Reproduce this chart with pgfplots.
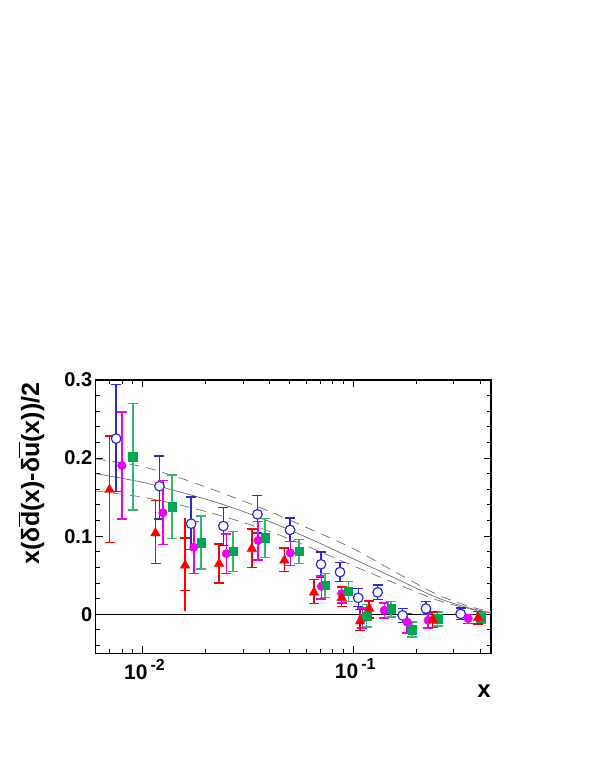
\documentclass[border=0pt]{standalone}
\usepackage{fontspec}
\setmainfont{Liberation Sans}
\usepackage{pgfplots}
\pgfplotsset{compat=1.18}
\definecolor{cblue}{RGB}{40,40,235}
\definecolor{cmag}{RGB}{240,0,240}
\definecolor{cgreen}{RGB}{0,166,81}
\definecolor{cgreenbar}{RGB}{50,185,110}
\definecolor{cred}{RGB}{255,0,0}
\definecolor{cgray}{RGB}{110,110,110}
\newcommand{\xtl}[1]{\fontsize{21}{21}\selectfont\bfseries 10\hspace{3pt}\raisebox{9pt}{\fontsize{16}{16}\selectfont\bfseries #1}}
\pgfplotsset{
  ebar/.style={
    only marks,
    error bars/y dir=both, error bars/y explicit,
    error bars/error bar style={/tikz/line width=1.5pt, /tikz/draw=#1, /tikz/solid},
    error bars/error mark options={rotate=90, mark size=5pt, /tikz/line width=1.5pt, /tikz/draw=#1},
  }
}
\begin{document}
\begin{tikzpicture}
\path[use as bounding box] (0pt,0pt) rectangle (590pt,-763pt);
\begin{axis}[
  at={(95.7pt,-653.3pt)}, anchor=south west, scale only axis,
  width=395.3pt, height=273.3pt,
  xmode=log, xmin=0.006, xmax=0.45, ymin=-0.05, ymax=0.3,
  axis line style={line width=1.1pt},
  major tick length=7pt, minor tick length=4pt,
  every tick/.style={black, line width=0.9pt},
  xtick={0.01,0.1}, xticklabels={\xtl{-2},\xtl{-1}},
  minor xtick={0.007,0.008,0.009,0.02,0.03,0.04,0.05,0.06,0.07,0.08,0.09,0.2,0.3,0.4},
  ytick={0,0.1,0.2,0.3}, yticklabels={0,0.1,0.2,0.3},
  minor ytick={-0.04,-0.02,0.02,0.04,0.06,0.08,0.12,0.14,0.16,0.18,0.22,0.24,0.26,0.28},
  yticklabel style={font=\fontsize{20}{20}\selectfont\bfseries, xshift=0pt},
  xticklabel style={yshift=-2pt, xshift=2pt},
  /pgf/number format/assume math mode=true,
  xlabel={x}, ylabel={x(δ$\overline{\hbox{d}}$(x)-δ$\overline{\vphantom{\hbox{d}}\hbox{u}}$(x))/2},
  xlabel style={at={(axis description cs:1,-0.16)}, anchor=base east, inner sep=0pt, font=\fontsize{24}{24}\selectfont\bfseries},
  ylabel style={at={(axis description cs:-0.162,0.658)}, anchor=center, font=\fontsize{25}{25}\selectfont\bfseries},
  clip=false,
]
% curves
\addplot[cgray, line width=0.7pt, smooth, dash pattern=on 10pt off 7pt] coordinates {
(0.00601,0.199) (0.01,0.189) (0.01585,0.1725) (0.02512,0.153) (0.03981,0.132) (0.0631,0.1085) (0.1,0.084) (0.1585,0.054) (0.2512,0.025) (0.3548,0.010) (0.4498,0.0035)};
\addplot[cgray, line width=0.7pt, smooth] coordinates {
(0.00601,0.180) (0.01,0.169) (0.01585,0.155) (0.02512,0.139) (0.03981,0.119) (0.0631,0.096) (0.1,0.071) (0.1585,0.046) (0.2512,0.021) (0.3548,0.008) (0.4498,0.002)};
\addplot[cgray, line width=0.7pt, smooth, dash pattern=on 10pt off 7pt] coordinates {
(0.00601,0.158) (0.01,0.150) (0.01585,0.1385) (0.02512,0.124) (0.03981,0.1065) (0.0631,0.085) (0.1,0.062) (0.1585,0.0395) (0.2512,0.018) (0.3548,0.007) (0.4498,0.0015)};
% zero line
\addplot[black, line width=1.1pt] coordinates {(0.006,0) (0.45,0)};
% blue open circles
\addplot[ebar=cblue, draw=cblue, mark=*, mark size=4.8pt, mark options={fill=white, draw=cblue, line width=1.2pt}]
  table[x=x, y=y, y error plus=ep, y error minus=em] {
x y ep em
0.00750 0.225 0.069 0.068
0.01204 0.164 0.039 0.042
0.01702 0.116 0.034 0.033
0.0242 0.113 0.024 0.025
0.0351 0.128 0.024 0.024
0.0501 0.108 0.015 0.015
0.0703 0.064 0.0155 0.016
0.0865 0.054 0.012 0.012
0.1056 0.021 0.012 0.011
0.1305 0.028 0.0096 0.0092
0.1714 -0.0015 0.009 0.009
0.2211 0.0073 0.0093 0.0073
0.323 0.0005 0.0075 0.0073
};
% magenta filled circles
\addplot[ebar=cmag, draw=cmag, mark=*, mark size=4.3pt, mark options={fill=cmag, draw=cmag}]
  table[x=x, y=y, y error plus=ep, y error minus=em] {
x y ep em
0.00799 0.1905 0.0685 0.0685
0.01249 0.130 0.041 0.0405
0.01753 0.0857 0.0333 0.0337
0.0250 0.0776 0.025 0.0256
0.0354 0.0946 0.024 0.025
0.0503 0.0785 0.015 0.016
0.0706 0.0358 0.013 0.016
0.0881 0.0265 0.0093 0.012
0.1103 -0.0055 0.0135 0.012
0.1403 0.005 0.0096 0.010
0.1803 -0.0102 0.011 0.0136
0.2267 -0.0077 0.0087 0.0097
0.3508 -0.0055 0.005 0.0065
};
% green squares
\addplot[ebar=cgreenbar, draw=cgreen, mark=square*, mark size=4.3pt, mark options={fill=cgreen, draw=cgreen}]
  table[x=x, y=y, y error plus=ep, y error minus=em] {
x y ep em
0.0090 0.2017 0.068 0.068
0.01383 0.138 0.0406 0.0408
0.01897 0.092 0.034 0.034
0.0269 0.0806 0.0254 0.0256
0.0382 0.0977 0.0247 0.0248
0.0553 0.081 0.0145 0.0162
0.0735 0.0371 0.015 0.0154
0.0947 0.0294 0.0124 0.0128
0.1157 -0.0026 0.015 0.014
0.151 0.0069 0.0097 0.0102
0.1904 -0.0196 0.0094 0.0093
0.2512 -0.0059 0.0085 0.0094
0.403 -0.0042 0.006 0.0068
};
% red outer bar (no caps)
\addplot[ebar=cred, draw=cred, mark=none, error bars/error mark=none]
  table[x=x, y=y, y error plus=ep, y error minus=em] {
x y ep em
0.01593 0.0627 0.061 0.059
};
% red triangles
\addplot[ebar=cred, draw=cred, mark=triangle*, mark size=5.5pt, mark options={fill=cred, draw=cred}]
  table[x=x, y=y, y error plus=ep, y error minus=em] {
x y ep em
0.00698 0.1595 0.069 0.0675
0.01153 0.104 0.0418 0.0392
0.01593 0.0627 0.035 0.032
0.0231 0.0648 0.0252 0.0248
0.033 0.084 0.025 0.024
0.0471 0.069 0.016 0.014
0.0651 0.0281 0.0163 0.0144
0.0881 0.021 0.014 0.011
0.1076 -0.009 0.015 0.0115
0.119 0.0073 0.010 0.012
0.2378 -0.0068 0.010 0.010
0.391 -0.0046 0.008 0.008
};
\end{axis}
\end{tikzpicture}
\end{document}
